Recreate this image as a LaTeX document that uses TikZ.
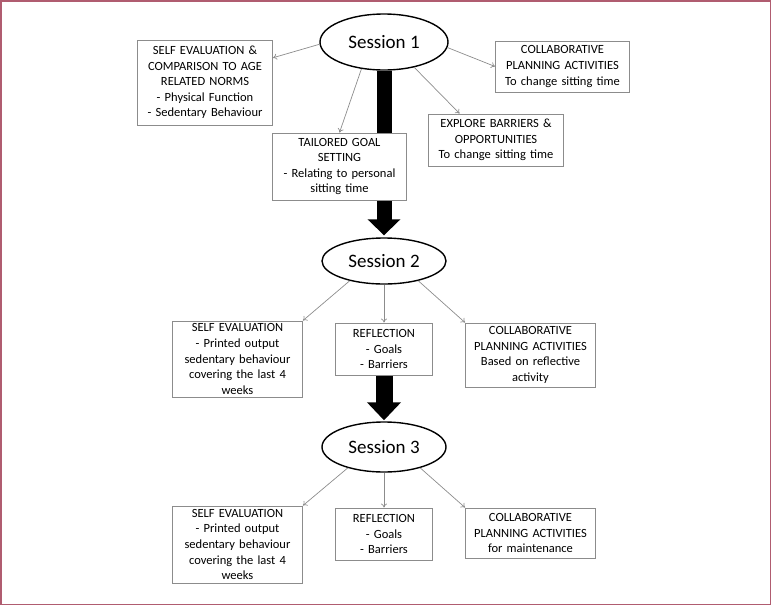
\documentclass[tikz,border=0pt]{standalone}
\usepackage{fontspec}
\setmainfont{Carlito}
\usetikzlibrary{positioning, calc, arrows.meta, shapes.geometric}
\pgfdeclarelayer{background}
\pgfsetlayers{background,main}
\definecolor{framecol}{RGB}{176,92,112}
\definecolor{boxgray}{RGB}{140,140,140}

\begin{document}
\begin{tikzpicture}
    [x=1pt, y=-1pt,
    sessionnode/.style={ellipse, draw=black, line width=1.4pt, fill=white, inner sep=0pt, font=\fontsize{19}{22}\selectfont},
    textbox/.style={rectangle, draw=boxgray, line width=0.9pt, fill=white, align=center, inner xsep=2pt, inner ysep=1pt, font=\fontsize{12.5}{15.6}\selectfont},
    thinarrow/.style={draw=boxgray, line width=0.7pt, -{To[length=4pt,width=6pt]}},
    bigarrow/.style={line width=15pt, black, -{Triangle[width=32pt,length=16pt]}},]

    \useasboundingbox (0,0) rectangle (772,606);
    \draw[framecol, line width=1.5pt] (0.8,0.8) rectangle (770.6,604.6);

    %Nodes
    \node[sessionnode, minimum width=128pt, minimum height=56pt](S1) at (384,42){Session 1};
    \node[sessionnode, minimum width=124pt, minimum height=46pt](S2) at (384,261){Session 2};
    \node[sessionnode, minimum width=124pt, minimum height=50pt](S3) at (384,447){Session 3};

    \node[textbox, text width=131pt, minimum height=85pt](SE1) at (205,82.5){SELF EVALUATION \&\\COMPARISON TO AGE\\RELATED NORMS\\- Physical Function\\- Sedentary Behaviour};
    \node[textbox, text width=130pt, minimum height=51pt](CP1) at (562.5,66.5){COLLABORATIVE\\PLANNING ACTIVITIES\\To change sitting time};
    \node[textbox, text width=131pt, minimum height=52pt](EB1) at (496,140){EXPLORE BARRIERS \&\\OPPORTUNITIES\\To change sitting time};
    \node[textbox, text width=130pt, minimum height=67pt](TG1) at (339.5,166.5){TAILORED GOAL\\SETTING\\- Relating to personal\\sitting time};

    \node[textbox, text width=126pt, minimum height=76pt](SE2) at (237.5,359){SELF EVALUATION\\- Printed output\\sedentary behaviour\\covering the last 4\\weeks};
    \node[textbox, text width=93pt, minimum height=52pt](RF2) at (384,349){REFLECTION\\- Goals\\- Barriers};
    \node[textbox, text width=126pt, minimum height=64pt](CP2) at (530.5,355){COLLABORATIVE\\PLANNING ACTIVITIES\\Based on reflective\\activity};

    \node[textbox, text width=126pt, minimum height=77pt](SE3) at (237.5,544.5){SELF EVALUATION\\- Printed output\\sedentary behaviour\\covering the last 4\\weeks};
    \node[textbox, text width=93pt, minimum height=52pt](RF3) at (384,534){REFLECTION\\- Goals\\- Barriers};
    \node[textbox, text width=126pt, minimum height=50pt](CP3) at (530.5,533){COLLABORATIVE\\PLANNING ACTIVITIES\\for maintenance};

    %Big arrows
    \begin{pgfonlayer}{background}
    \draw[bigarrow, shorten >=2pt](S1.south)--(S2.north);
    \draw[bigarrow, line width=17pt, -{Triangle[width=33pt,length=18pt]}, shorten >=1pt](RF2.south)--(S3.north);
    \end{pgfonlayer}

    %Lines
    \draw[thinarrow](S1.182)--(SE1.20);
    \draw[thinarrow](S1.230)--(TG1.north);
    \draw[thinarrow](S1.320)--(EB1.144);
    \draw[thinarrow](S1.355)--(CP1.west);

    \draw[thinarrow](S2.210)--(SE2.north east);
    \draw[thinarrow](S2.south)--(RF2.north);
    \draw[thinarrow](S2.330)--(CP2.north west);

    \draw[thinarrow](S3.210)--(SE3.north east);
    \draw[thinarrow](S3.south)--(RF3.north);
    \draw[thinarrow](S3.330)--(CP3.north west);
\end{tikzpicture}
\end{document}
